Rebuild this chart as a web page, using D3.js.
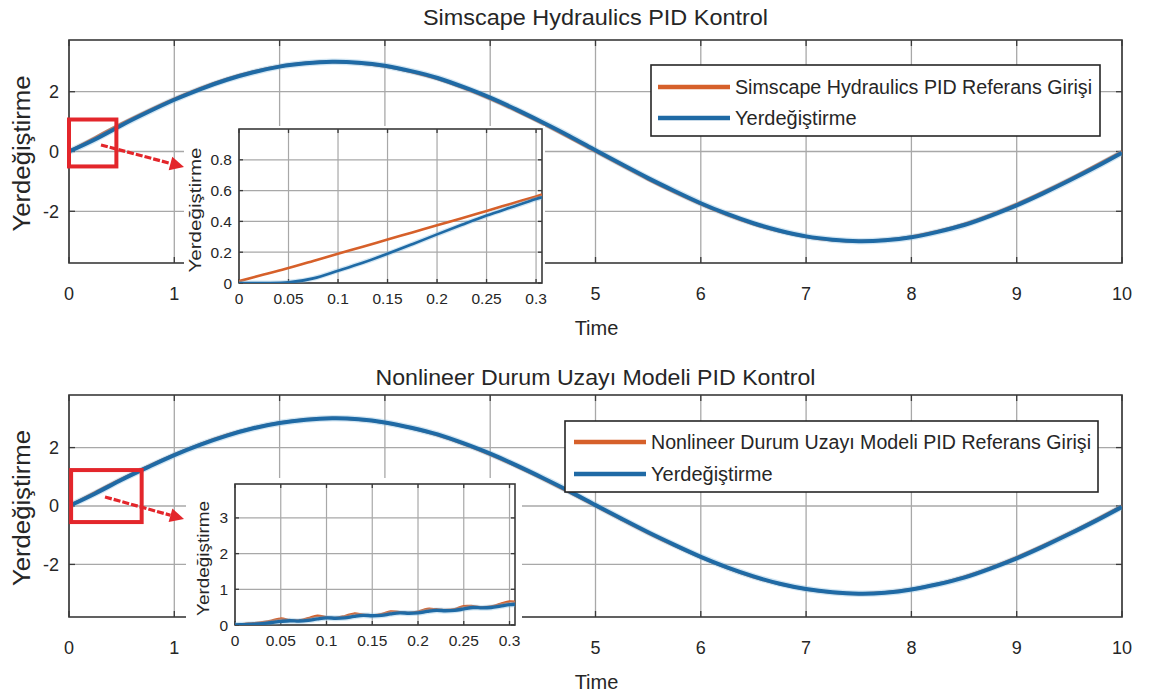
<!DOCTYPE html>
<html><head><meta charset="utf-8">
<script src="https://cdn.jsdelivr.net/npm/d3@7"></script>
<style>
body{margin:0;background:#fff}
svg{display:block}
text{font-family:"Liberation Sans",Arial,Helvetica,sans-serif;fill:#262626}
</style></head>
<body><svg id="c" width="1162" height="698"></svg>
<script>
// ---------- DATA ----------
const timeMain = [0,0.25,0.5,0.75,1,1.25,1.5,1.75,2,2.25,2.5,2.75,3,3.25,3.5,3.75,4,4.25,4.5,4.75,5,5.25,5.5,5.75,6,6.25,6.5,6.75,7,7.25,7.5,7.75,8,8.25,8.5,8.75,9,9.25,9.5,9.75,10];
const refMain = [0,0.47,0.93,1.36,1.76,2.12,2.43,2.67,2.85,2.96,3.00,2.96,2.85,2.67,2.43,2.12,1.76,1.36,0.93,0.47,0,-0.47,-0.93,-1.36,-1.76,-2.12,-2.43,-2.67,-2.85,-2.96,-3.00,-2.96,-2.85,-2.67,-2.43,-2.12,-1.76,-1.36,-0.93,-0.47,0];
const dispTop = [0,0.41,0.88,1.32,1.73,2.09,2.40,2.65,2.84,2.95,3.00,2.97,2.87,2.69,2.46,2.15,1.80,1.40,0.97,0.52,0.04,-0.43,-0.89,-1.32,-1.73,-2.09,-2.40,-2.65,-2.84,-2.95,-3.00,-2.97,-2.87,-2.69,-2.46,-2.15,-1.80,-1.40,-0.97,-0.52,-0.04];
const dispBottom = [0,0.43,0.90,1.33,1.74,2.10,2.41,2.66,2.84,2.95,3.00,2.97,2.86,2.68,2.45,2.14,1.79,1.39,0.96,0.51,0.03,-0.44,-0.90,-1.33,-1.74,-2.10,-2.41,-2.66,-2.84,-2.95,-3.00,-2.97,-2.86,-2.68,-2.45,-2.14,-1.79,-1.39,-0.96,-0.51,-0.03];

const timeInsetTop = [0,0.025,0.05,0.075,0.1,0.125,0.15,0.175,0.2,0.225,0.25,0.275,0.3,0.306];
const refInsetTop  = [0.012,0.055,0.097,0.143,0.19,0.235,0.282,0.328,0.375,0.42,0.468,0.515,0.562,0.574];
const dispInsetTop = [0,0,0.004,0.03,0.08,0.132,0.19,0.252,0.316,0.378,0.438,0.492,0.545,0.556];

const timeInsetBot = [0,0.01,0.02,0.03,0.04,0.05,0.06,0.07,0.08,0.09,0.1,0.11,0.12,0.13,0.14,0.15,0.16,0.17,0.18,0.19,0.2,0.21,0.22,0.23,0.24,0.25,0.26,0.27,0.28,0.29,0.3,0.306];
const refInsetBot  = [0,0.03,0.05,0.08,0.12,0.18,0.14,0.13,0.19,0.26,0.22,0.20,0.25,0.32,0.29,0.27,0.30,0.38,0.36,0.34,0.37,0.45,0.44,0.42,0.44,0.53,0.53,0.50,0.52,0.59,0.66,0.65];
const dispInsetBot = [0,0.01,0.02,0.04,0.07,0.10,0.12,0.11,0.13,0.17,0.20,0.19,0.20,0.24,0.27,0.26,0.27,0.31,0.34,0.33,0.34,0.38,0.41,0.40,0.41,0.45,0.49,0.48,0.49,0.53,0.57,0.58];

const xTicksMain = [0,1,2,3,4,5,6,7,8,9,10];
const yTicksMain = [-2,0,2];
const xTicksInset = [0,0.05,0.1,0.15,0.2,0.25,0.3];
const yTicksInsetTop = [0,0.2,0.4,0.6,0.8];
const yTicksInsetBot = [0,1,2,3];

const titles = ["Simscape Hydraulics PID Kontrol","Nonlineer Durum Uzayı Modeli PID Kontrol"];
const legendRef = ["Simscape Hydraulics PID Referans Girişi","Nonlineer Durum Uzayı Modeli PID Referans Girişi"];
const legendDisp = "Yerdeğiştirme";
const xLabel = "Time";
const yLabel = "Yerdeğiştirme";
// zoomed region markers (data units: t0,t1,y0,y1)
const zoomBoxTop = [0,0.45,-0.5,1.07];
const zoomBoxBot = [0.02,0.69,-0.55,1.23];

// ---------- STYLE ----------
const BLUE="#1f6aa5", ORANGE="#d6602a", RED="#e3262b", GRID="#a8a8a8", AX="#3a3a3a";
const svg=d3.select("#c");
svg.append("rect").attr("width",1162).attr("height",698).attr("fill","#fff");

function fmt(v){return (Math.abs(v)<1e-9)?"0":String(+v.toFixed(2));}

function axesBox(g,x,y,xt,yt,opt){
  const [x0,x1]=x.range(), [y0,y1]=y.range();
  g.append("g").selectAll("line").data(xt).join("line")
    .attr("x1",d=>x(d)).attr("x2",d=>x(d)).attr("y1",y0).attr("y2",y1)
    .attr("stroke",GRID).attr("stroke-width",opt.gw||1.3);
  g.append("g").selectAll("line").data(yt).join("line")
    .attr("y1",d=>y(d)).attr("y2",d=>y(d)).attr("x1",x0).attr("x2",x1)
    .attr("stroke",GRID).attr("stroke-width",opt.gw||1.3);
  const tl=opt.tl||6;
  const tk=g.append("g").attr("stroke",AX).attr("stroke-width",1.3);
  xt.forEach(d=>{tk.append("line").attr("x1",x(d)).attr("x2",x(d)).attr("y1",y0).attr("y2",y0-tl);
                 tk.append("line").attr("x1",x(d)).attr("x2",x(d)).attr("y1",y1).attr("y2",y1+tl);});
  yt.forEach(d=>{tk.append("line").attr("y1",y(d)).attr("y2",y(d)).attr("x1",x0).attr("x2",x0+tl);
                 tk.append("line").attr("y1",y(d)).attr("y2",y(d)).attr("x1",x1).attr("x2",x1-tl);});
  g.append("rect").attr("x",x0).attr("y",y1).attr("width",x1-x0).attr("height",y0-y1)
    .attr("fill","none").attr("stroke",AX).attr("stroke-width",opt.bw||1.6);
}

function tickLabels(g,x,y,xt,yt,opt){
  const [x0]=x.range(), [y0]=y.range();
  g.append("g").selectAll("text").data(xt.filter(d=>!opt.hide||!opt.hide(x(d)))).join("text")
    .attr("x",d=>x(d)).attr("y",y0+opt.xdy).attr("text-anchor","middle")
    .attr("font-size",opt.fs).text(fmt);
  g.append("g").selectAll("text").data(yt).join("text")
    .attr("x",x0-opt.ydx).attr("y",d=>y(d)).attr("dy","0.36em").attr("text-anchor","end")
    .attr("font-size",opt.fs).text(fmt);
}

function drawLines(g,x,y,t,ref,disp,wRef,wDisp,curve){
  const line=(arr)=>d3.line().x((d,i)=>x(t[i])).y(d=>y(d)).curve(curve)(arr);
  g.append("path").attr("d",line(ref)).attr("fill","none").attr("stroke",ORANGE).attr("stroke-width",wRef).attr("stroke-linejoin","round");
  g.append("path").attr("d",line(disp)).attr("fill","none").attr("stroke","#7fb6dd").attr("stroke-width",wDisp+2.5).attr("stroke-opacity",0.35);
  g.append("path").attr("d",line(disp)).attr("fill","none").attr("stroke",BLUE).attr("stroke-width",wDisp).attr("stroke-linejoin","round");
}

function panel(p){
  const g=svg.append("g");
  const x=d3.scaleLinear().domain([0,10]).range([p.left,p.right]);
  const y=d3.scaleLinear().domain(p.ydom).range([p.bottom,p.top]);
  const I=p.inset;
  const clipId="clip"+p.id;
  svg.append("defs").append("clipPath").attr("id",clipId).append("rect")
    .attr("x",p.left).attr("y",p.top).attr("width",p.right-p.left).attr("height",p.bottom-p.top);
  axesBox(g,x,y,xTicksMain,yTicksMain,{});
  tickLabels(g,x,y,xTicksMain,yTicksMain,{fs:18,xdy:37,ydx:10,hide:px=>px>I.bg[0]+5&&px<I.bg[2]-5});
  g.append("text").attr("x",(p.left+p.right)/2).attr("y",p.titleY).attr("text-anchor","middle")
    .attr("font-size",22).attr("textLength",p.titleW).attr("lengthAdjust","spacingAndGlyphs").text(p.title);
  g.append("text").attr("x",(p.left+p.right)/2+1).attr("y",p.bottom+p.xlabDy).attr("text-anchor","middle")
    .attr("font-size",20).text(xLabel);
  g.append("text").attr("transform",`translate(${p.ylabX},${(p.top+p.bottom)/2+2}) rotate(-90)`)
    .attr("text-anchor","middle").attr("font-size",23).attr("textLength",156).attr("lengthAdjust","spacingAndGlyphs").text(yLabel);
  const lg=g.append("g").attr("clip-path",`url(#${clipId})`);
  drawLines(lg,x,y,timeMain,refMain,p.disp,3,4,d3.curveNatural);
  // legend
  const L=p.legend;
  const lgd=g.append("g");
  lgd.append("rect").attr("x",L.x).attr("y",L.y).attr("width",L.w).attr("height",L.h)
    .attr("fill","#fff").attr("stroke","#262626").attr("stroke-width",1.6);
  [[ORANGE,p.legendRef,L.r1,L.tw],[BLUE,legendDisp,L.r2,null]].forEach(([c,t,yy,tw])=>{
    lgd.append("line").attr("x1",L.x+L.lx0).attr("x2",L.x+L.lx1).attr("y1",yy).attr("y2",yy)
      .attr("stroke",c).attr("stroke-width",4.5);
    const tx=lgd.append("text").attr("x",L.x+L.tx).attr("y",yy).attr("dy","0.35em").attr("font-size",20).text(t);
    if(tw) tx.attr("textLength",tw).attr("lengthAdjust","spacingAndGlyphs");
  });
  // zoom marker
  const zb=p.zoomBox;
  g.append("rect").attr("x",x(zb[0])).attr("y",y(zb[3])).attr("width",x(zb[1])-x(zb[0])).attr("height",y(zb[2])-y(zb[3]))
    .attr("fill","none").attr("stroke",RED).attr("stroke-width",4);
  // inset
  g.append("rect").attr("x",I.bg[0]).attr("y",I.bg[1]).attr("width",I.bg[2]-I.bg[0]).attr("height",I.bg[3]-I.bg[1]).attr("fill","#fff");
  const xi=d3.scaleLinear().domain([0,0.306]).range([I.left,I.right]);
  const yi=d3.scaleLinear().domain(I.ydom).range([I.bottom,I.top]);
  const ig=g.append("g");
  axesBox(ig,xi,yi,xTicksInset,I.yticks,{tl:4,gw:1.2,bw:1.6});
  tickLabels(ig,xi,yi,xTicksInset,I.yticks,{fs:15.5,xdy:21,ydx:7});
  ig.append("text").attr("transform",`translate(${I.ylabX},${(I.top+I.bottom)/2+4}) rotate(-90)`)
    .attr("text-anchor","middle").attr("font-size",16).attr("textLength",I.ylabW).attr("lengthAdjust","spacingAndGlyphs").text(yLabel);
  const cid="iclip"+p.id;
  svg.append("defs").append("clipPath").attr("id",cid).append("rect")
    .attr("x",I.left).attr("y",I.top).attr("width",I.right-I.left).attr("height",I.bottom-I.top);
  const il=ig.append("g").attr("clip-path",`url(#${cid})`);
  drawLines(il,xi,yi,I.t,I.ref,I.disp,I.wRef,I.wDisp,d3.curveCatmullRom);
  // arrow
  const A=p.arrow;
  const ang=Math.atan2(A[3]-A[1],A[2]-A[0]);
  const hx=A[2]-14*Math.cos(ang), hy=A[3]-14*Math.sin(ang);
  g.append("line").attr("x1",A[0]).attr("y1",A[1]).attr("x2",hx).attr("y2",hy)
    .attr("stroke",RED).attr("stroke-width",3.2).attr("stroke-dasharray","7,2");
  const px=-Math.sin(ang), py=Math.cos(ang);
  g.append("path").attr("d",`M${A[2]},${A[3]}L${hx+px*7},${hy+py*7}L${hx-px*7},${hy-py*7}Z`).attr("fill",RED);
}

panel({id:1,left:69,right:1122,top:40,bottom:263,ydom:[-3.73,3.73],title:titles[0],titleW:345,titleY:25,
  xlabDy:72,ylabX:30,disp:dispTop,legendRef:legendRef[0],zoomBox:zoomBoxTop,
  legend:{x:651,y:65,w:449,h:71,lx0:7,lx1:79,tx:84,r1:87,r2:118,tw:357},
  arrow:[101,145,184,167],
  inset:{bg:[184,126,545,314],left:239,right:542,top:129,bottom:283,ydom:[0,1],yticks:yTicksInsetTop,
    ylabX:201,ylabW:125,t:timeInsetTop,ref:refInsetTop,disp:dispInsetTop,wRef:2.6,wDisp:2.6}});

panel({id:2,left:69,right:1122,top:395,bottom:617,ydom:[-3.8,3.8],title:titles[1],titleW:440,titleY:385,
  xlabDy:72,ylabX:30,disp:dispBottom,legendRef:legendRef[1],zoomBox:zoomBoxBot,
  legend:{x:565,y:421,w:533,h:71,lx0:9,lx1:81,tx:86,r1:442,r2:474,tw:440},
  arrow:[105,497,184,519],
  inset:{bg:[186,478,522,662],left:235,right:515,top:484,bottom:625,ydom:[0,3.95],yticks:yTicksInsetBot,
    ylabX:209,ylabW:115,t:timeInsetBot,ref:refInsetBot,disp:dispInsetBot,wRef:2.4,wDisp:3.4}});
</script></body></html>
